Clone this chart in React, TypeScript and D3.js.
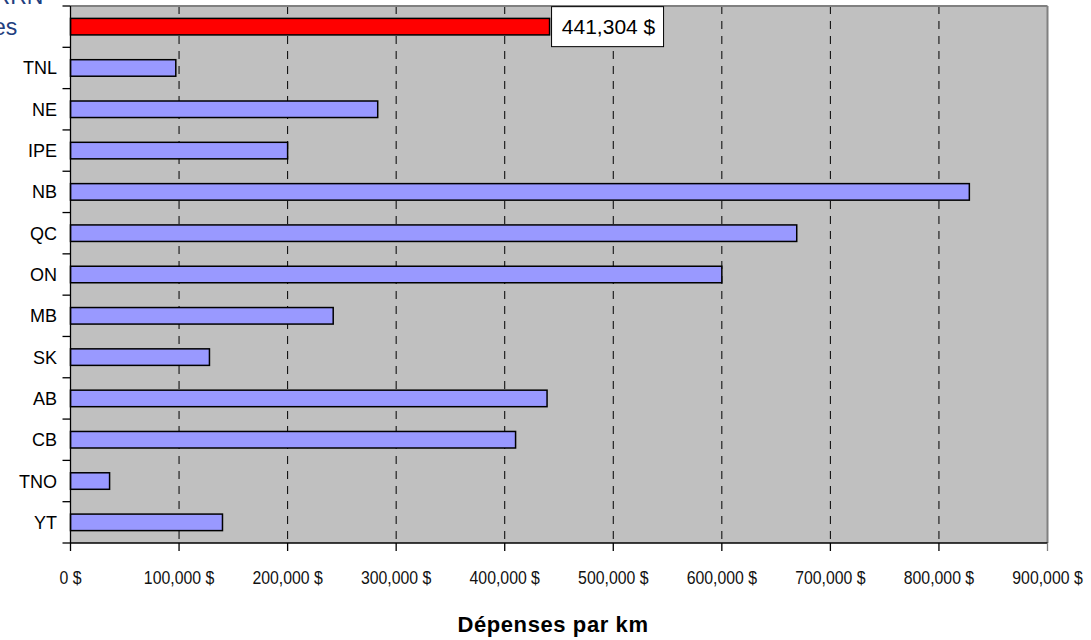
import React from 'react';
import * as d3 from 'd3';

const categories = ['RRN', 'TNL', 'NE', 'IPE', 'NB', 'QC', 'ON', 'MB', 'SK', 'AB', 'CB', 'TNO', 'YT'];
const values = [441304, 97000, 283000, 200000, 828000, 669000, 600000, 242000, 128000, 439000, 410000, 36000, 140000];
const xTicks = [0, 100000, 200000, 300000, 400000, 500000, 600000, 700000, 800000, 900000];
const topLabelLines = ['Moyenne RRN', 'provinces'];
const axisTitle = 'Dépenses par km';

const W = 1091;
const H = 640;
const left = 70.5;
const right = 1047.5;
const top = 6;
const bottom = 543;

export default function App() {
  const x = d3.scaleLinear().domain([0, 900000]).range([left, right]);
  const y = d3
    .scaleBand<string>()
    .domain(categories)
    .range([top, bottom])
    .paddingInner(0.6)
    .paddingOuter(0.3);
  const step = y.step();
  const fmt = (v: number) => d3.format(',')(v) + ' $';
  const hi = 0;
  const hiCenter = (y(categories[hi]) as number) + y.bandwidth() / 2;
  const boxX = x(values[hi]) + 2;
  const boxW = 112;
  const boxH = 40;

  return (
    <svg width={W} height={H} style={{ position: 'absolute', left: 0, top: 0, background: '#fff' }}>
      <rect x={left} y={top} width={right - left} height={bottom - top} fill="#C0C0C0" />
      {xTicks.slice(1, -1).map((t) => (
        <line key={t} x1={x(t)} x2={x(t)} y1={top} y2={bottom} stroke="#000" strokeWidth={1} strokeDasharray="8,7" />
      ))}
      <line x1={left} x2={right} y1={top} y2={top} stroke="#808080" strokeWidth={2} />
      <line x1={right} x2={right} y1={top} y2={bottom} stroke="#808080" strokeWidth={2} />
      {categories.map((c, i) => (
        <rect
          key={c}
          x={x(0)}
          y={y(c) as number}
          width={x(values[i]) - x(0)}
          height={y.bandwidth()}
          fill={i === hi ? '#FF0000' : '#9999FF'}
          stroke="#000"
          strokeWidth={1.5}
        />
      ))}
      <line x1={left} x2={left} y1={top} y2={bottom} stroke="#000" strokeWidth={1.3} />
      <line x1={left} x2={right} y1={bottom} y2={bottom} stroke="#000" strokeWidth={1.3} />
      {d3.range(categories.length + 1).map((k) => (
        <line key={k} x1={left - 8} x2={left} y1={top + k * step} y2={top + k * step} stroke="#000" strokeWidth={1.3} />
      ))}
      {xTicks.map((t, i) => (
        <line
          key={t}
          x1={x(t)}
          x2={x(t)}
          y1={bottom}
          y2={bottom + 8}
          stroke={i === xTicks.length - 1 ? '#808080' : '#000'}
          strokeWidth={1.3}
        />
      ))}
      {xTicks.map((t) => (
        <text
          key={t}
          transform={`translate(${x(t)},584) scale(0.88,1)`}
          textAnchor="middle"
          fontFamily="'Liberation Sans', Arial, sans-serif"
          fontSize={18}
          fill="#111"
        >
          {fmt(t)}
        </text>
      ))}
      {categories.slice(1).map((c) => (
        <text
          key={c}
          x={57}
          y={(y(c) as number) + y.bandwidth() / 2 + 6.5}
          textAnchor="end"
          fontFamily="'Liberation Sans', Arial, sans-serif"
          fontSize={18}
          fill="#000"
        >
          {c}
        </text>
      ))}
      {topLabelLines.map((l, i) => (
        <text
          key={l}
          x={-32}
          y={4 + i * 31}
          textAnchor="middle"
          fontFamily="'Liberation Sans', Arial, sans-serif"
          fontSize={23}
          fill="#1F4080"
        >
          {l}
        </text>
      ))}
      <rect x={boxX} y={hiCenter - boxH / 2} width={boxW} height={boxH} fill="#fff" stroke="#000" strokeWidth={1} />
      <text
        x={boxX + boxW / 2 + 1}
        y={hiCenter + 7.5}
        textAnchor="middle"
        fontFamily="'Liberation Sans', Arial, sans-serif"
        fontSize={21}
        fill="#000"
      >
        {fmt(values[hi])}
      </text>
      <text
        x={553}
        y={632}
        textAnchor="middle"
        fontFamily="'Liberation Sans', Arial, sans-serif"
        fontSize={22}
        fontWeight="bold"
        letterSpacing={0.6}
        fill="#000"
      >
        {axisTitle}
      </text>
    </svg>
  );
}
